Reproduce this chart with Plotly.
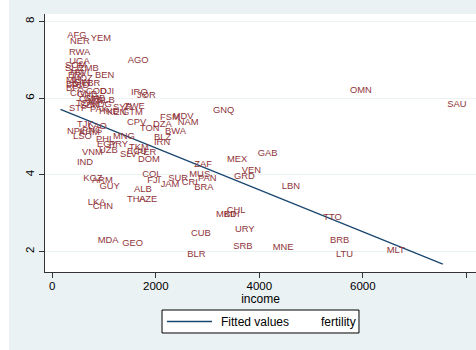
import plotly.graph_objects as go

# ---- data ----
countries = ["AFG","NER","YEM","RWA","UGA","AGO","SOM","SLE","ZMB","MWI","BEN","ERI","MOZ","MLI","GIN",
             "BDI","TCD","BFA","LBR","DJI","IRQ","JOR","CIV","GNB","COD","CMR","SLB","HTI","GMB","STP",
             "SEN","MDG","TZA","SYR","ZWE","HND","GTM","KEN","PAK","CPV","DZA","TON","FSM","MDV","NAM",
             "BWA","BLZ","IRN","GNQ","GAB","MEX","TJK","LAO","NPL","KHM","PNG","LSO","PHL","MNG","EGY",
             "PRY","UZB","VNM","IND","TKM","SLV","ECU","PER","DOM","ZAF","VEN","GRD","COL","FJI","JAM",
             "SUR","MUS","CRI","PAN","BRA","ALB","THA","AZE","KGZ","ARM","GUY","LKA","CHN","MDA","GEO",
             "CUB","BLR","MKD","BIH","CHL","URY","SRB","MNE","LBN","TTO","BRB","LTU","MLT","OMN","SAU"]
income = [203,255,655,236,242,1370,158,158,429,255,738,216,294,178,332,
          178,255,178,487,835,1434,1549,255,390,564,429,777,603,526,236,
          448,641,371,1086,1298,815,1260,970,641,1356,1859,1607,1994,2239,2336,
          2090,1878,1878,3018,3881,3288,390,603,197,429,487,313,757,1086,777,
          1009,815,487,390,1395,1221,1356,1549,1569,2657,3572,3423,1652,1748,2007,
          2154,2560,2413,2728,2657,1492,1356,1588,512,680,825,597,694,790,1265,
          2593,2521,3076,3230,3282,3443,3410,4171,4345,5149,5278,5394,6374,5665,7545]
fertility = [7.62,7.47,7.55,7.20,6.94,6.98,6.84,6.77,6.77,6.66,6.58,6.60,6.50,6.45,6.40,
             6.34,6.32,6.24,6.37,6.16,6.15,6.07,6.13,6.08,6.16,5.95,5.93,5.90,6.00,5.73,
             5.80,5.82,5.85,5.74,5.77,5.64,5.61,5.61,5.69,5.35,5.30,5.20,5.49,5.53,5.37,
             5.13,4.98,4.85,5.68,4.54,4.40,5.30,5.25,5.12,5.09,5.14,4.99,4.93,4.99,4.78,
             4.78,4.62,4.57,4.31,4.70,4.52,4.60,4.57,4.39,4.27,4.11,3.95,4.00,3.85,3.75,
             3.89,4.00,3.79,3.89,3.66,3.62,3.36,3.36,3.89,3.85,3.69,3.27,3.17,2.28,2.21,
             2.47,1.93,2.97,2.97,3.07,2.58,2.12,2.10,3.69,2.88,2.28,1.91,2.02,6.19,5.84]

fit_income = [158, 7545]
fit_values = [5.71, 1.67]

x_ticks = [0, 2000, 4000, 6000, 8000]
y_ticks = [2, 4, 6, 8]
legend_names = ["Fitted values", "fertility"]

MAROON = "#90353b"
NAVY = "#1a476f"
BG = "#eaf2f3"
FONT = "Arial, Liberation Sans, sans-serif"

fig = go.Figure()

fig.add_trace(go.Scatter(
    x=fit_income, y=fit_values, mode="lines", name=legend_names[0],
    line=dict(color=NAVY, width=1.3), hoverinfo="skip", showlegend=False))

fig.add_trace(go.Scatter(
    x=income, y=fertility, mode="markers+text", text=countries, name=legend_names[1],
    textposition="middle right", showlegend=False, cliponaxis=False,
    marker=dict(size=5.6, color="rgba(0,0,0,0)"),
    textfont=dict(family=FONT, size=9.4, color=MAROON)))

# Stata-style legend box below the plot (paper coordinates)
leg_y = -0.1919
shapes = [
    dict(type="rect", xref="paper", yref="paper", x0=-0.2, x1=-0.0835,
         y0=-0.4, y1=1.2, fillcolor="white", line=dict(width=0), layer="below"),
    dict(type="rect", xref="paper", yref="paper", x0=0.2715, x1=0.7285,
         y0=-0.2364, y1=-0.1473, fillcolor="white", line=dict(color="black", width=1)),
    dict(type="line", xref="paper", yref="paper", x0=0.283, x1=0.3875,
         y0=leg_y, y1=leg_y, line=dict(color=NAVY, width=1.3)),
]
annotations = [
    dict(xref="paper", yref="paper", x=0.4037, y=leg_y, xanchor="left", yanchor="middle",
         text=legend_names[0], showarrow=False, font=dict(size=12, color="black")),
    dict(xref="paper", yref="paper", x=0.636, y=leg_y, xanchor="left", yanchor="middle",
         text=legend_names[1], showarrow=False, font=dict(size=12, color="black")),
]

fig.update_layout(
    width=476, height=350,
    margin=dict(l=45, r=0, t=14, b=78),
    paper_bgcolor=BG, plot_bgcolor="white",
    font=dict(family=FONT, size=12, color="black"),
    showlegend=False,
    shapes=shapes, annotations=annotations,
)

fig.update_xaxes(range=[-141, 8186], tickvals=x_ticks, ticks="outside", ticklen=5,
                 tickcolor="#333333", showline=True, linecolor="#333333", linewidth=1,
                 showgrid=False, zeroline=False, tickfont=dict(size=11.5),
                 ticklabelstandoff=-2,
                 title=dict(text="income", font=dict(size=12), standoff=0))
fig.update_yaxes(range=[1.465, 8.196], tickvals=y_ticks, ticks="outside", ticklen=5,
                 tickcolor="#333333", showline=True, linecolor="#333333", linewidth=1,
                 showgrid=True, gridcolor=BG, gridwidth=1, zeroline=False,
                 tickangle=-90, tickfont=dict(size=11.5))

fig.write_html("out.html")
